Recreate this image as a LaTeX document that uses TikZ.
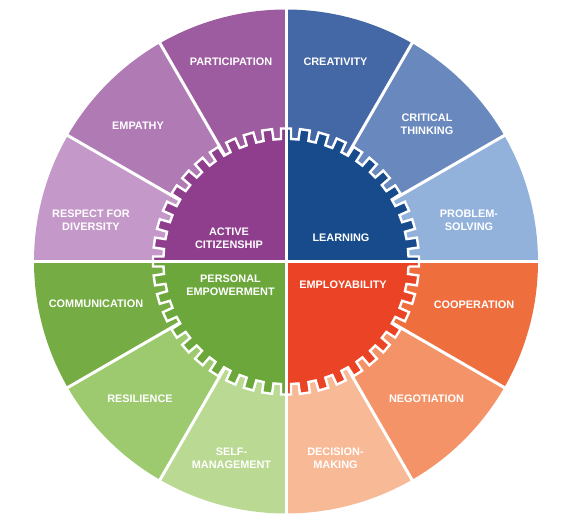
\documentclass[tikz,border=0pt]{standalone}
\usepackage{fontspec}
\setmainfont{Liberation Sans}
\definecolor{part}{HTML}{9D5BA0}
\definecolor{emp}{HTML}{B07AB4}
\definecolor{resp}{HTML}{C498C8}
\definecolor{activ}{HTML}{8E3E8C}
\definecolor{creat}{HTML}{4467A5}
\definecolor{crit}{HTML}{6888BE}
\definecolor{prob}{HTML}{92B2DC}
\definecolor{learn}{HTML}{174B8C}
\definecolor{coop}{HTML}{EF6E3E}
\definecolor{nego}{HTML}{F49368}
\definecolor{deci}{HTML}{F8BA96}
\definecolor{empl}{HTML}{EA4325}
\definecolor{comm}{HTML}{76AC44}
\definecolor{resil}{HTML}{9DCA6F}
\definecolor{selfm}{HTML}{BAD993}
\definecolor{pers}{HTML}{6CA73C}
\begin{document}
\begin{tikzpicture}[x=1pt,y=1pt,
  lbl/.style={text=white, font=\bfseries\fontsize{10.9}{12.6}\selectfont, align=center, inner sep=0pt},
  sep/.style={white, line width=3pt}]
\useasboundingbox (-286,-254.5) rectangle (283,261.5);
\def\R{252}
\def\ri{122.5}
\def\ro{133}
\def\hw{5}
\def\pt{8.181818}
% outer sectors
\foreach \a/\c in {60/creat, 30/crit, 0/prob, -30/coop, -60/nego, -90/deci, -120/selfm, -150/resil, 180/comm, 150/resp, 120/emp, 90/part}{
  \fill[\c] (0,0) -- (\a:\R) arc[start angle=\a, end angle=\a+30, radius=\R] -- cycle;
}
% dividers between segments
\foreach \a in {30,60,120,150,210,240,300,330}{
  \draw[sep] (0,0) -- (\a:\R+2);
}
% gear, one quadrant at a time
\foreach \q/\c in {0/learn, 90/activ, 180/pers, 270/empl}{
  \begin{scope}
    \clip (0,0) -- (\q:220) -- (\q+45:311) -- (\q+90:220) -- cycle;
    \filldraw[fill=\c, draw=white, line width=2.4pt]
      ({\ri+0.01},{-\hw})
      \foreach \k in {0,...,43}{
        -- ({\ri*cos(\pt*\k)+\hw*sin(\pt*\k)},{\ri*sin(\pt*\k)-\hw*cos(\pt*\k)})
        -- ({\ro*cos(\pt*\k)+\hw*sin(\pt*\k)},{\ro*sin(\pt*\k)-\hw*cos(\pt*\k)})
        -- ({\ro*cos(\pt*\k)-\hw*sin(\pt*\k)},{\ro*sin(\pt*\k)+\hw*cos(\pt*\k)})
        -- ({\ri*cos(\pt*\k)-\hw*sin(\pt*\k)},{\ri*sin(\pt*\k)+\hw*cos(\pt*\k)})
      } -- cycle;
  \end{scope}
}
% quadrant cross
\draw[sep] (-\R-2,0) -- (\R+2,0);
\draw[sep] (0,-\R-2) -- (0,\R+2);
% labels
\node[lbl] (participation) at (-55,199.5) {PARTICIPATION};
\node[lbl] (empathy) at (-148,135.5) {EMPATHY};
\node[lbl] (respect) at (-195,41.5) {RESPECT FOR\\DIVERSITY};
\node[lbl] (active) at (-57,23.5) {ACTIVE\\CITIZENSHIP};
\node[lbl] (creativity) at (49.5,199.5) {CREATIVITY};
\node[lbl] (critical) at (141,137) {CRITICAL\\THINKING};
\node[lbl] (problem) at (183,41.5) {PROBLEM-\\SOLVING};
\node[lbl] (learning) at (55,23.5) {LEARNING};
\node[lbl] (communication) at (-190,-42.5) {COMMUNICATION};
\node[lbl] (personal) at (-55.5,-24) {PERSONAL\\EMPOWERMENT};
\node[lbl] (resilience) at (-146,-137.5) {RESILIENCE};
\node[lbl] (selfman) at (-54.5,-197) {SELF-\\MANAGEMENT};
\node[lbl] (employability) at (57,-23.5) {EMPLOYABILITY};
\node[lbl] (cooperation) at (188,-43.5) {COOPERATION};
\node[lbl] (negotiation) at (140.5,-137.5) {NEGOTIATION};
\node[lbl] (decision) at (49.5,-197) {DECISION-\\MAKING};
\end{tikzpicture}
\end{document}
